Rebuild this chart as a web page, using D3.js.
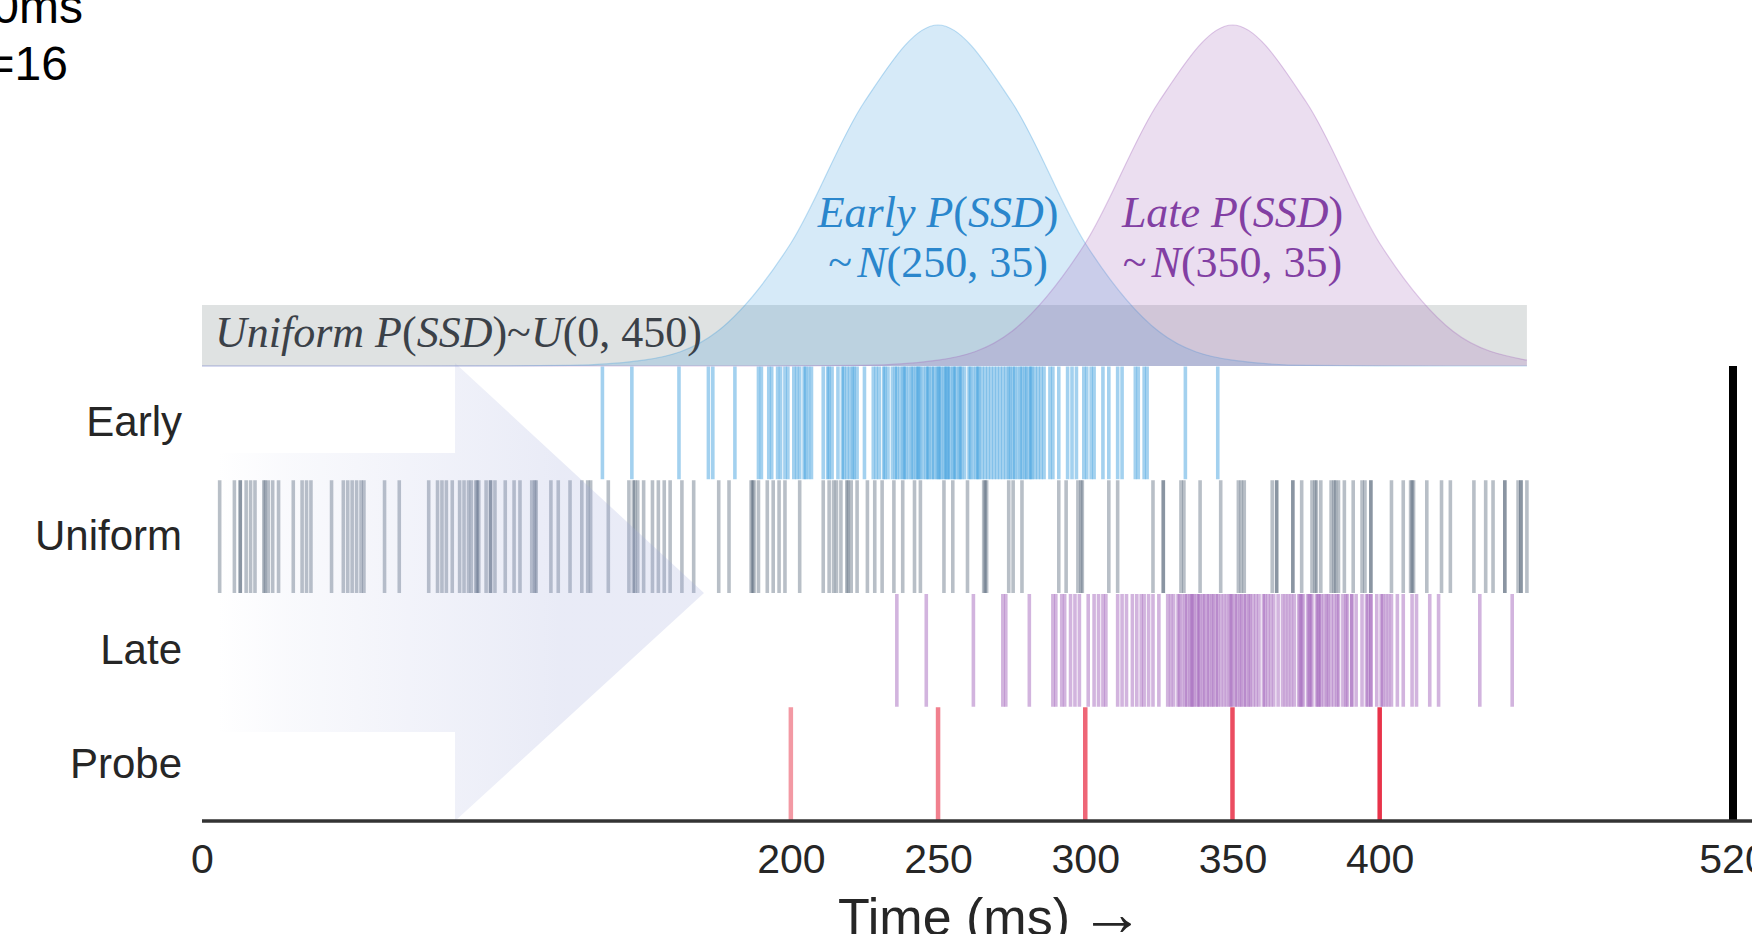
<!DOCTYPE html>
<html>
<head>
<meta charset="utf-8">
<script src="https://cdn.jsdelivr.net/npm/d3@7"></script>
<style>
  body { margin: 0; background: #fff; overflow: hidden; }
  svg { display: block; }
</style>
</head>
<body>
<div id="chart-area"></div>
<script>
// rows of the raster and the ticks on the time axis
var rows = ['Early', 'Uniform', 'Late', 'Probe'];
var tickValues = [0, 200, 250, 300, 350, 400, 520];

// stop-signal delays (ms) of every trial
var earlyTrials = [136, 146, 162, 172, 173.5, 181, 189, 190, 192.5, 193.5, 195.5, 196.5, 198,
  199, 201, 202, 203, 204.5, 205, 206, 207, 211, 212.5, 213, 214, 216, 217.5, 218, 219, 220,
  221, 221.5, 222.5, 225, 228, 229, 230, 231.5, 232, 233, 234.5, 235.5, 236, 237, 238, 238.5,
  239, 240, 241, 241.5, 242.5, 243, 243.5, 244, 245, 246, 246.5, 247, 248, 248.5, 249.5, 250,
  250.5, 251, 252, 252.5, 253, 253.5, 254, 255, 255.5, 256, 257, 257.5, 258, 259, 260.5, 261,
  262, 263, 263.5, 264, 265, 266, 267, 268, 269, 270, 271, 272, 273, 274, 274.5, 275.5, 276,
  277, 278, 278.5, 279.5, 280, 281, 281.5, 282, 283, 284, 285, 286, 288, 289, 291, 294, 295.5,
  297, 299.5, 300.5, 302, 303, 306, 308, 311, 312.5, 317, 318, 320, 321, 334, 345];

var uniformTrials = [6, 11, 13, 13, 15, 16.5, 18, 21, 21.5, 22.5, 24, 26, 31, 34, 35.5, 37, 44,
  48, 49.5, 51, 52.5, 54, 55, 62, 67, 77, 80, 81.5, 83, 85, 87.5, 89, 90.5, 91.5, 93, 93.5, 94,
  96.5, 98, 98, 99.5, 103, 106, 108, 112, 113, 113.5, 118.5, 121, 125, 129, 131, 132, 138, 145,
  146.5, 147, 148, 150, 153, 155, 157, 159, 163, 167, 175.5, 179, 186.5, 187, 187.5, 189, 192,
  194, 196, 198, 203, 211, 213, 214.5, 215.5, 217, 219, 219.5, 220.5, 222.5, 226, 228.5, 231,
  235, 238, 242, 244, 252, 255, 260, 265.5, 266, 266.5, 274, 275.5, 278.5, 291, 293.5, 297.5,
  298.5, 299, 308, 311, 323, 326.5, 326.5, 332.5, 333.5, 339, 346, 352, 353, 354, 363.5, 365,
  365, 370.5, 370.5, 373.5, 377, 378, 378.5, 380, 383.5, 384.5, 385, 386, 388, 391, 394, 395,
  397, 397, 404, 408, 410.5, 411, 411.5, 416, 421, 424, 432, 436, 438.5, 442.5, 442.5, 447,
  448, 448, 450];

var lateTrials = [236, 246, 262, 272, 273, 281, 289, 290, 292, 293, 295, 296.5, 298, 301, 303,
  304.5, 306, 307, 311, 312.5, 314, 316, 317.5, 319, 320, 321.5, 323, 325, 328, 329, 330,
  331.5, 332, 333, 334, 334.5, 335.5, 336, 336.5, 337, 338, 338.5, 339, 340, 340.5, 341.5, 342,
  343, 343.5, 344.5, 345, 346, 347, 348, 349, 349.5, 350, 351, 351.5, 352.5, 353, 354, 354.5,
  355.5, 356, 357, 358, 359, 360.5, 361, 362, 363, 364, 365.5, 367, 368, 369, 370, 371, 372.5,
  373, 373.5, 374, 375.5, 376, 376.5, 377, 378.5, 379, 379.5, 380, 381, 382, 382.5, 383.5,
  384.5, 385.5, 386, 387.5, 388.5, 389, 390.5, 390.5, 392, 394, 395.5, 396, 397, 397, 399,
  400.5, 401, 402, 403, 404, 406, 408, 411, 412.5, 417, 420, 434, 445];

var probeTrials = [200, 250, 300, 350, 400];
var deadline = 520;
var uniformRange = [0, 450];

// the two SSD distributions, relative height read at 25 ms steps
var densityTimes = [0, 25, 50, 75, 100, 125, 150, 175, 200, 225, 250, 275, 300, 325, 350, 375, 400, 425, 450];
var earlyDensity = [0, 0, 0, 0, 0.0001, 0.0017, 0.017, 0.101, 0.36, 0.775, 1, 0.775, 0.36, 0.101, 0.017, 0.0017, 0.0001, 0, 0];
var lateDensity = [0, 0, 0, 0, 0, 0, 0, 0, 0.0001, 0.0017, 0.017, 0.101, 0.36, 0.775, 1, 0.775, 0.36, 0.101, 0.017];

var width = 1752;
var height = 934;
var axisY = 821;
var rasterTop = 366;

var sans = "'Liberation Sans', Arial, Helvetica, sans-serif";
var serif = "'Liberation Serif', 'Times New Roman', serif";

var svg = d3.select('#chart-area')
  .append('svg')
    .attr('width', width)
    .attr('height', height);

// time runs left to right
var x = d3.scaleLinear()
  .domain([0, 520])
  .range([202, 1733]);

// one band per trial type
var band = d3.scaleBand()
  .domain(rows)
  .range([rasterTop, axisY]);

// height of the distribution curves above the raster
var yDens = d3.scaleLinear()
  .domain([0, 1])
  .range([rasterTop, 25]);

// grey box for the uniform distribution
svg.append('rect')
  .attr('x', x(uniformRange[0]))
  .attr('y', 305)
  .attr('width', x(uniformRange[1]) - x(uniformRange[0]))
  .attr('height', rasterTop - 305)
  .attr('fill', '#7f8c8d')
  .attr('fill-opacity', 0.25);

var dens = densityTimes.map(function (t, i) {
  return { t: t, early: earlyDensity[i], late: lateDensity[i] };
});

function drawCurve(key, color) {
  var area = d3.area()
    .x(function (d) { return x(d.t); })
    .y0(yDens(0))
    .y1(function (d) { return yDens(d[key]); })
    .curve(d3.curveMonotoneX);
  var line = d3.line()
    .x(function (d) { return x(d.t); })
    .y(function (d) { return yDens(d[key]); })
    .curve(d3.curveMonotoneX);
  svg.append('path')
    .attr('d', area(dens))
    .attr('fill', color)
    .attr('fill-opacity', 0.2);
  svg.append('path')
    .attr('d', line(dens))
    .attr('fill', 'none')
    .attr('stroke', color)
    .attr('stroke-opacity', 0.3)
    .attr('stroke-width', 1.2);
}
drawCurve('early', '#3498db');
drawCurve('late', '#9b59b6');

// math-style labels built from italic and upright pieces
function mathText(parent, px, py, size, color, anchor, parts) {
  var t = parent.append('text')
    .attr('x', px)
    .attr('y', py)
    .attr('font-family', serif)
    .attr('font-size', size)
    .attr('fill', color)
    .attr('text-anchor', anchor);
  parts.forEach(function (p) {
    t.append('tspan')
      .attr('font-style', p[1] ? 'italic' : 'normal')
      .attr('dx', p[2] || 0)
      .text(p[0]);
  });
  return t;
}

mathText(svg, 215, 347, 44, '#3b4148', 'start', [
  ['Uniform P', true], ['(', false], ['SSD', true], [')~', false], ['U', true], ['(0, 450)', false]
]);

mathText(svg, x(250), 227, 44, '#2a86cc', 'middle', [
  ['Early P', true], ['(', false], ['SSD', true], [')', false]
]);
mathText(svg, x(250), 277, 44, '#2a86cc', 'middle', [
  ['~', false], ['N', true, 5], ['(250, 35)', false]
]);
mathText(svg, x(350), 227, 44, '#823fa3', 'middle', [
  ['Late P', true], ['(', false], ['SSD', true], [')', false]
]);
mathText(svg, x(350), 277, 44, '#823fa3', 'middle', [
  ['~', false], ['N', true, 5], ['(350, 35)', false]
]);

// raster of trials, one thin line per trial
function drawRaster(row, trials, color, alpha) {
  svg.append('g')
    .selectAll('line')
    .data(trials)
    .enter()
    .append('line')
      .attr('x1', function (d) { return x(d); })
      .attr('x2', function (d) { return x(d); })
      .attr('y1', band(row) + 0.5)
      .attr('y2', band(row) + band.bandwidth() - 0.5)
      .attr('stroke', color)
      .attr('stroke-width', 3.6)
      .attr('stroke-opacity', alpha);
}
drawRaster('Early', earlyTrials, '#3498db', 0.45);
drawRaster('Uniform', uniformTrials, '#34495e', 0.35);
drawRaster('Late', lateTrials, '#9b59b6', 0.45);

// probe trials get stronger with delay
var probeAlpha = d3.scaleLinear().domain([200, 400]).range([0.5, 1]);
svg.append('g')
  .selectAll('line')
  .data(probeTrials)
  .enter()
  .append('line')
    .attr('x1', function (d) { return x(d); })
    .attr('x2', function (d) { return x(d); })
    .attr('y1', band('Probe'))
    .attr('y2', axisY)
    .attr('stroke', '#e8334a')
    .attr('stroke-width', 4.5)
    .attr('stroke-opacity', function (d) { return probeAlpha(d); });

// big faint arrow pointing forward in time
var grad = svg.append('defs').append('linearGradient')
  .attr('id', 'arrowFade')
  .attr('gradientUnits', 'userSpaceOnUse')
  .attr('x1', 218).attr('x2', 560)
  .attr('y1', 0).attr('y2', 0);
grad.append('stop').attr('offset', 0).attr('stop-color', '#9fa8da').attr('stop-opacity', 0);
grad.append('stop').attr('offset', 0.2).attr('stop-color', '#9fa8da').attr('stop-opacity', 0.06);
grad.append('stop').attr('offset', 1).attr('stop-color', '#9fa8da').attr('stop-opacity', 0.23);

svg.append('path')
  .attr('d', 'M218,453 L455,453 L455,363 L704,593 L455,821 L455,732 L218,732 Z')
  .attr('fill', 'url(#arrowFade)');

// deadline
svg.append('line')
  .attr('x1', x(deadline))
  .attr('x2', x(deadline))
  .attr('y1', rasterTop)
  .attr('y2', axisY)
  .attr('stroke', '#000')
  .attr('stroke-width', 8);

// row labels on the left
var yAxisCall = d3.axisLeft(band).tickSize(0).tickPadding(20);
var yAxis = svg.append('g')
  .attr('transform', 'translate(' + x(0) + ',0)')
  .call(yAxisCall);
yAxis.select('.domain').remove();
yAxis.selectAll('text')
  .attr('font-family', sans)
  .attr('font-size', 42)
  .attr('fill', '#262626');

// time axis
var xAxisCall = d3.axisBottom(x)
  .tickValues(tickValues)
  .tickSize(0)
  .tickFormat(d3.format('d'));
var xAxis = svg.append('g')
  .attr('transform', 'translate(0,' + axisY + ')')
  .call(xAxisCall);
xAxis.select('.domain').remove();
xAxis.selectAll('text')
  .attr('y', 52)
  .attr('dy', 0)
  .attr('font-family', sans)
  .attr('font-size', 41)
  .attr('fill', '#262626');

svg.append('line')
  .attr('x1', x(0))
  .attr('x2', width)
  .attr('y1', axisY)
  .attr('y2', axisY)
  .attr('stroke', '#333')
  .attr('stroke-width', 3.5);

var xLabel = svg.append('text')
  .attr('x', 991)
  .attr('y', 935)
  .attr('text-anchor', 'middle')
  .attr('font-size', 52)
  .attr('fill', '#262626');
xLabel.append('tspan').attr('font-family', sans).text('Time (ms)');
xLabel.append('tspan').attr('font-family', serif).attr('font-size', 64).attr('dx', 10).text('→');

// bits of the title block cut off at the top left
svg.append('text')
  .attr('x', 83)
  .attr('y', 23)
  .attr('text-anchor', 'end')
  .attr('font-family', sans)
  .attr('font-size', 48)
  .attr('fill', '#000')
  .text('0ms');
svg.append('text')
  .attr('x', 68)
  .attr('y', 80)
  .attr('text-anchor', 'end')
  .attr('font-family', sans)
  .attr('font-size', 48)
  .attr('fill', '#000')
  .text('=16');
</script>
</body>
</html>
